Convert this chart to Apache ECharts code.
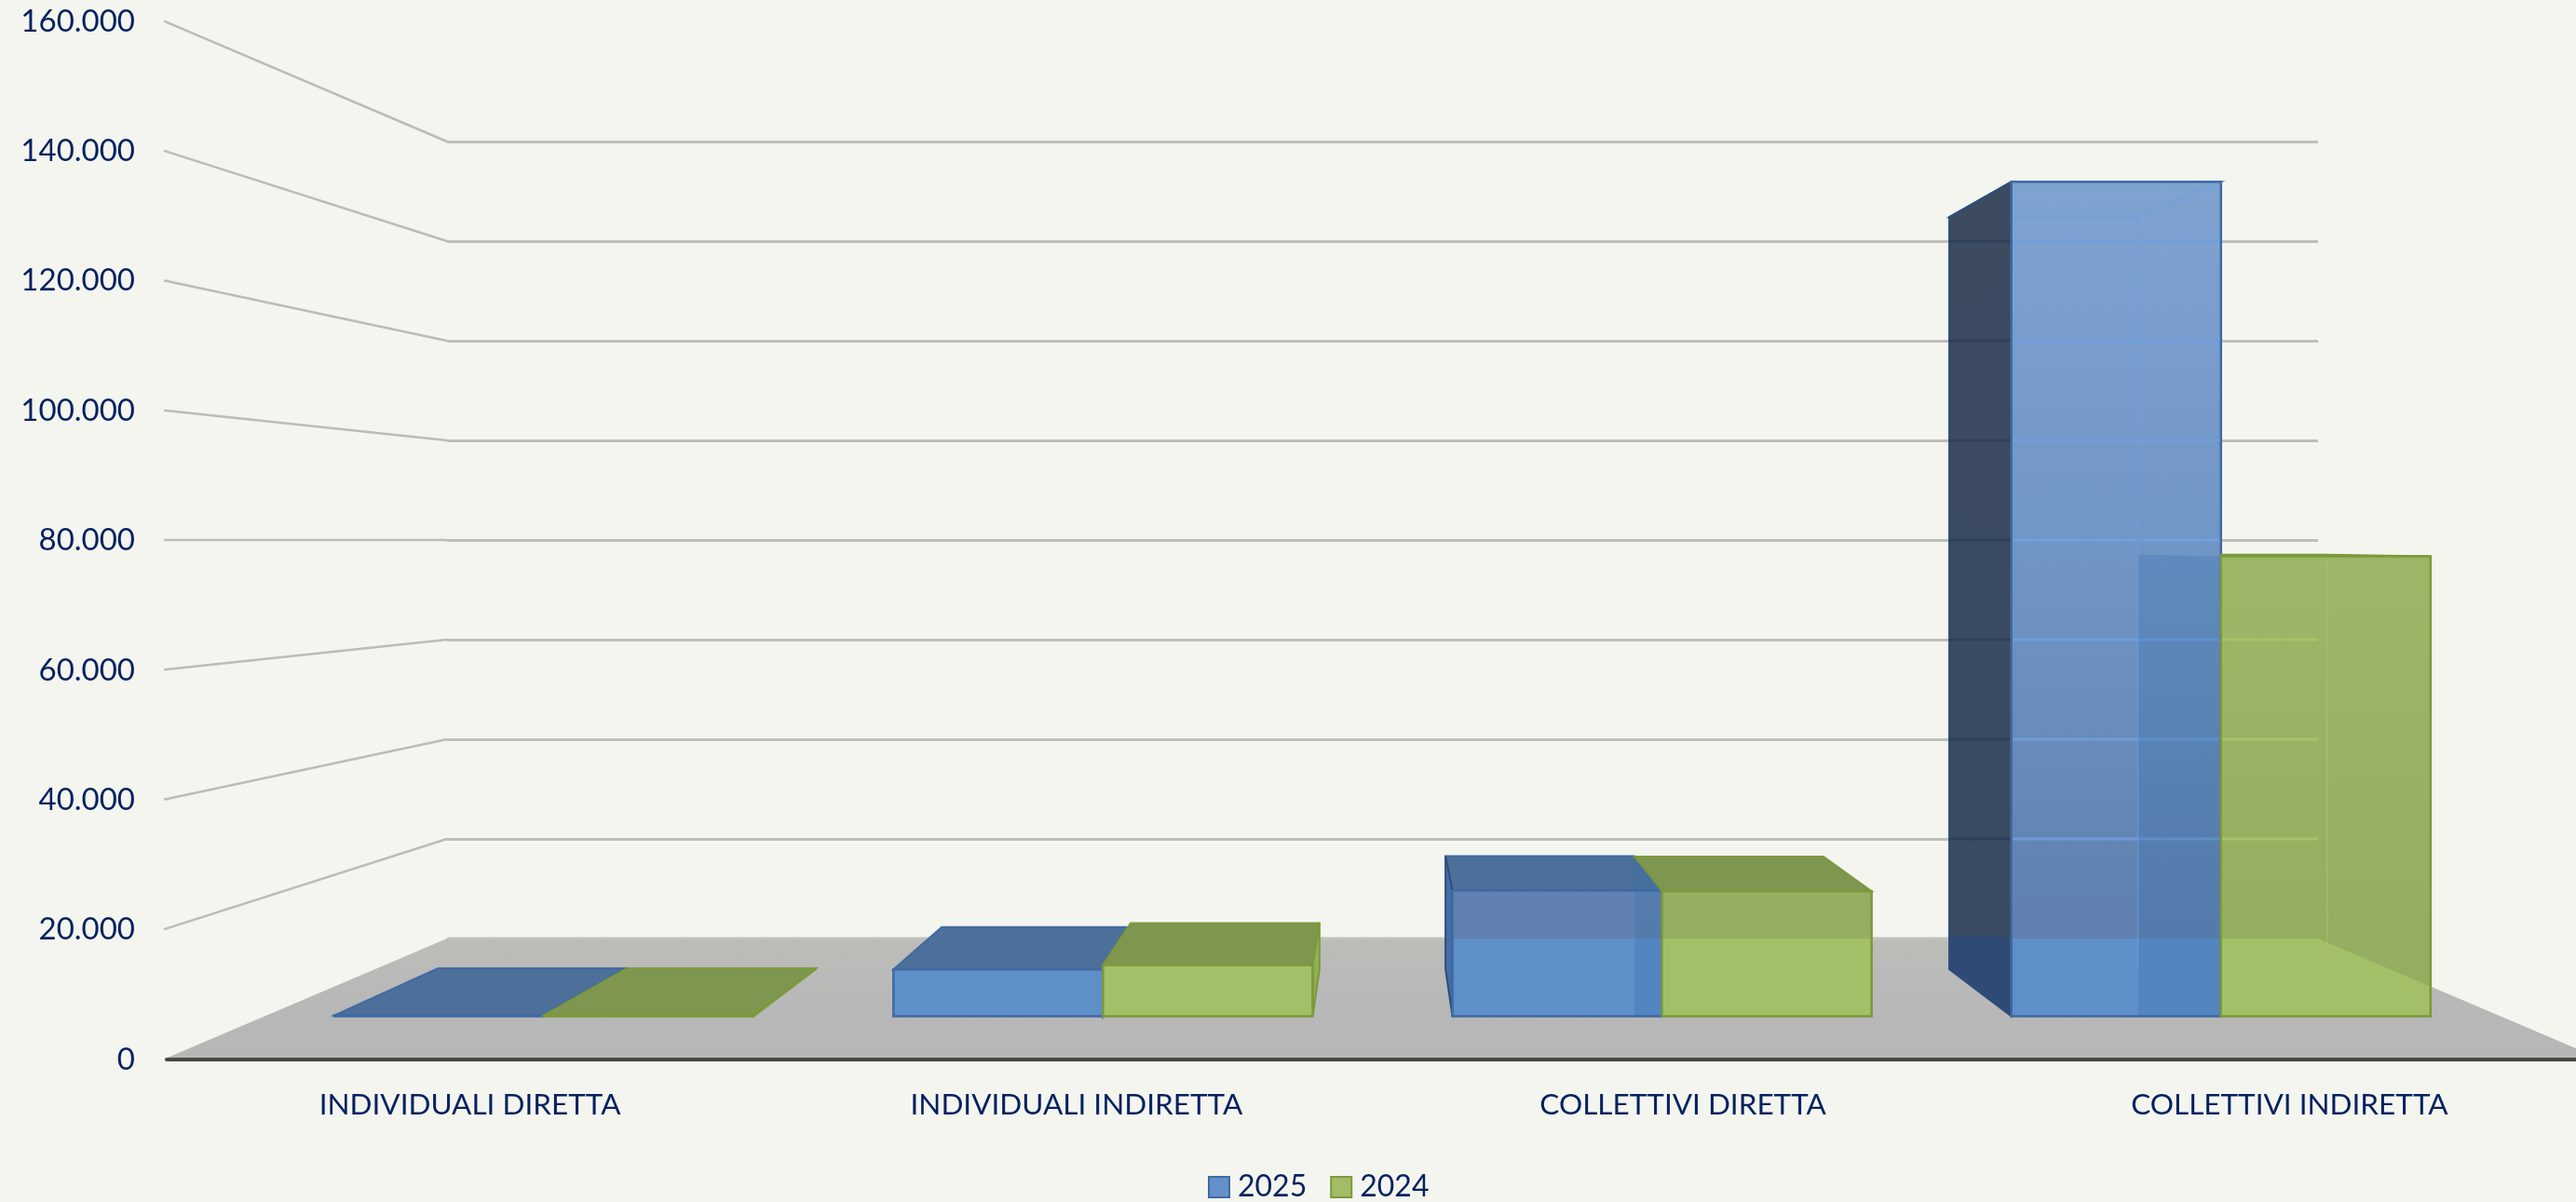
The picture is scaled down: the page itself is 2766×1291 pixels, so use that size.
<!DOCTYPE html>
<html><head><meta charset="utf-8">
<style>html,body{margin:0;padding:0;background:#f4f5ef;overflow:hidden}#c{width:2766px;height:1291px}</style>
<script src="https://cdn.jsdelivr.net/npm/echarts@6/dist/echarts.min.js"></script>
</head><body><div id="c"></div>
<script>
const categories = ['INDIVIDUALI DIRETTA','INDIVIDUALI INDIRETTA','COLLETTIVI DIRETTA','COLLETTIVI INDIRETTA'];
const values2025 = [150, 7850, 21100, 140200];
const values2024 = [150, 8600, 21000, 77250];
const yTicks = [0,20000,40000,60000,80000,100000,120000,140000,160000];

const FRONT_S = 1.3025, BAR_FRONT_S = 1.195, BAR_BACK_S = 1.077, BAR_RATIO = 0.375;
const TEXT = '#04215f', FONT = 'Lato';
const grad = (y1,y2,stops)=>new echarts.graphic.LinearGradient(0,y1,0,y2,stops.map((c,i)=>({offset:i/(stops.length-1),color:c})),true);
const hard = (y1,y2,a,b,c)=>new echarts.graphic.LinearGradient(0,y1,0,y2,[{offset:0,color:a},{offset:.995,color:b},{offset:1,color:c}],true);

const palette = {
  blue:{top:['#80a4d2','#7096c6','#5f80ae'],floor:'#5f8fc9',edge:'#3f6aa3',line:'#6fa0df',topFace:'#4c7099',side:['#3d4b60','#394a62','#2f4b75'],thin:'#436ea6',sideEdge:'#2d4e7c',over:'rgba(50,110,165,0.26)'},
  green:{top:['#a4bd74','#9db668','#95ad60'],floor:'#a2c067',edge:'#7c9a3a',line:'#a8c56c',topFace:'#7e9650',side:['#8fae55','#8fae55','#8fae55'],thin:'#8fae55',sideEdge:'#7c9a3a',over:'rgba(50,110,165,0.26)'}
};

function clipConvex(poly, clip){
  let out = poly;
  for(let i=0;i<clip.length;i++){
    const a=clip[i], b=clip[(i+1)%clip.length], inp=out; out=[];
    const side=p=>(b[0]-a[0])*(p[1]-a[1])-(b[1]-a[1])*(p[0]-a[0]);
    for(let j=0;j<inp.length;j++){
      const p=inp[j], q=inp[(j+1)%inp.length], sp=side(p), sq=side(q);
      if(sp>=0) out.push(p);
      if((sp>=0)!==(sq>=0)){const t=sp/(sp-sq); out.push([p[0]+(q[0]-p[0])*t,p[1]+(q[1]-p[1])*t]);}
    }
    if(!out.length) break;
  }
  return out;
}
function frameOf(api){
  const band = api.size([1,0])[0];
  const wallL = api.coord([0,0])[0]-band/2, wallR = api.coord([categories.length-1,0])[0]+band/2;
  const vx=(wallL+wallR)/2, vy=api.coord([0,80000])[1], y0=api.coord([0,0])[1];
  const P=(x,y,s)=>[vx+(x-vx)*s, vy+(y-vy)*s];
  const floor=[P(wallL,y0,1),P(wallR,y0,1),P(wallR,y0,FRONT_S),P(wallL,y0,FRONT_S)];
  return {band,wallL,wallR,vx,vy,y0,P,floor};
}
const poly=(points,fill,stroke,lw)=>({type:'polygon',shape:{points},style:{fill,stroke:stroke||null,lineWidth:lw||0}});
const seg=(a,b,stroke,lw,op)=>({type:'line',shape:{x1:a[0],y1:a[1],x2:b[0],y2:b[1]},style:{stroke,lineWidth:lw,opacity:op==null?1:op}});

function renderFloor(params,api){
  const f=frameOf(api);
  return {type:'group',children:[poly(f.floor,grad(f.y0,f.y0+130,['#bcbcb8','#b8b8b8','#b6b6b6'])),seg(f.floor[0],f.floor[1],'#c2c2bb',3)]};
}
function renderDiagonal(params,api){
  const f=frameOf(api), t=api.value(1);
  if(t===0) return;
  const y=api.coord([0,t])[1];
  return seg(f.P(f.wallL,y,1),f.P(f.wallL,y,FRONT_S),'#bcbcb4',2.5);
}
function makeBar(pal,offsetSign,isSecond){
  return function(params,api){
    const f=frameOf(api), P=f.P, cat=api.value(0), val=api.value(1);
    const cx=api.coord([cat,0])[0], w=f.band*BAR_RATIO;
    const xa=offsetSign<0?cx-w:cx, xb=offsetSign<0?cx:cx+w;
    const yt=api.coord([cat,val])[1], yb=f.y0;
    const fr=[P(xa,yt,BAR_FRONT_S),P(xb,yt,BAR_FRONT_S),P(xb,yb,BAR_FRONT_S),P(xa,yb,BAR_FRONT_S)];
    const bk=[P(xa,yt,BAR_BACK_S),P(xb,yt,BAR_BACK_S),P(xb,yb,BAR_BACK_S),P(xa,yb,BAR_BACK_S)];
    const ch=[];
    const rightOfVP=xa>f.vx;
    const sideA=rightOfVP?[bk[0],fr[0],fr[3],bk[3]]:[bk[1],fr[1],fr[2],bk[2]];
    const thin=Math.abs(sideA[0][0]-sideA[1][0])<20;
    const sideTop=api.coord([0,160000])[1];
    const hiddenByFirst=isSecond&&rightOfVP&&values2025[cat]>val*1.2;
    // top face (behind the side face and, on a taller neighbour, cut at its front)
    let topPts=[bk[0],bk[1],fr[1],fr[0]];
    if(hiddenByFirst){
      const X0=fr[0][0];
      topPts=clipConvex(topPts,[[X0,-1e4],[1e5,-1e4],[1e5,1e4],[X0,1e4]]);
    }
    ch.push(poly(topPts,pal.topFace,pal.edge,2));
    // side face; the second series' inner side is seen through the first series' front face
    if(isSecond&&rightOfVP){
      ch.push(poly([bk[0],fr[0],fr[3],[bk[3][0],fr[3][1]]],pal.over));
    }else{
      ch.push(poly(sideA,thin?pal.thin:hard(sideTop,yb,pal.side[0],pal.side[1],pal.side[2]),pal.sideEdge,2));
    }
    // front face, with its part over the floor
    ch.push(poly(fr,grad(sideTop,yb,pal.top)));
    const over=clipConvex(fr,f.floor);
    if(over.length) ch.push(poly(over,pal.floor));
    // inner back edges
    const bx=rightOfVP?1:0, tall=val>50000;
    const innerTop=[bk[bx][0],Math.max(bk[bx][1],fr[0][1])], innerBot=bk[bx?2:3];
    if(innerTop[1]<innerBot[1]) ch.push(seg(innerTop,innerBot,pal.line,2,tall?0.55:0.15));
    if(yt<f.vy){
      ch.push(seg([fr[0][0],bk[0][1]],bk[1],pal.line,2,0.7));
      ch.push(seg(bk[1],fr[1],pal.line,2,0.8));
    }
    // wall gridlines seen through the bar
    yTicks.forEach(t=>{
      if(t===0||t>=val) return;
      const y=api.coord([cat,t])[1];
      const x1=fr[0][0], x2=Math.min(fr[1][0],f.wallR);
      if(y<=fr[0][1]||y>=fr[3][1]||x2<=x1) return;
      ch.push(seg([x1,y],[x2,y],pal.line,3,0.85));
      if(rightOfVP&&!isSecond) ch.push(seg([Math.max(bk[0][0],x1-200),y],[x1,y],'#2c3f58',3,0.9));
    });
    ch.push(poly(fr,'none',pal.edge,2.5));
    return {type:'group',children:ch};
  };
}

const chart=echarts.init(document.getElementById('c'),null,{renderer:'canvas',width:2766,height:1291});
const toPairs=a=>a.map((v,i)=>[i,v]);
const fmt=v=>String(v).replace(/\B(?=(\d{3})+$)/g,'.');
chart.setOption({
  animation:false,
  backgroundColor:'#f4f5ef',
  textStyle:{fontFamily:FONT},
  grid:[
    {left:480,right:277,top:152,bottom:283,outerBoundsMode:'none'},
    {left:179,width:2605,top:23,bottom:153,outerBoundsMode:'none'}
  ],
  xAxis:[
    {type:'category',gridIndex:0,data:categories,axisLine:{show:false},axisTick:{show:false},axisLabel:{show:false},splitLine:{show:false}},
    {type:'category',gridIndex:1,data:categories,z:6,axisLine:{show:true,lineStyle:{color:'#474745',width:4}},axisTick:{show:false},splitLine:{show:false},
     axisLabel:{color:TEXT,fontSize:31.5,fontFamily:FONT,margin:33,interval:0,hideOverlap:false}}
  ],
  yAxis:[
    {type:'value',gridIndex:0,min:0,max:160000,interval:20000,axisLine:{show:false},axisTick:{show:false},axisLabel:{show:false},splitLine:{show:true,lineStyle:{color:'#bfbfb7',width:3}}},
    {type:'value',gridIndex:1,min:0,max:160000,interval:20000,axisLine:{show:false},axisTick:{show:false},splitLine:{show:false},
     axisLabel:{color:TEXT,fontSize:33,fontFamily:FONT,margin:34,formatter:fmt,padding:[10,0,0,0]}}
  ],
  legend:{data:['2025','2024'],left:1292,top:1254,itemWidth:22,itemHeight:22,itemGap:25,icon:'rect',
    textStyle:{color:TEXT,fontSize:32,fontFamily:FONT,padding:[0,0,0,4]}},
  tooltip:{show:false},
  series:[
    {type:'custom',xAxisIndex:0,yAxisIndex:0,z:1,silent:true,renderItem:renderFloor,data:[[0,0]]},
    {type:'custom',xAxisIndex:0,yAxisIndex:0,z:1,silent:true,renderItem:renderDiagonal,data:yTicks.map(t=>[0,t])},
    {type:'custom',name:'2025',xAxisIndex:0,yAxisIndex:0,z:3,silent:true,renderItem:makeBar(palette.blue,-1,false),data:toPairs(values2025),itemStyle:{color:'#6590c8',borderColor:'#3f6aa3',borderWidth:2}},
    {type:'custom',name:'2024',xAxisIndex:0,yAxisIndex:0,z:4,silent:true,renderItem:makeBar(palette.green,1,true),data:toPairs(values2024),itemStyle:{color:'#a2bd66',borderColor:'#7c9a3a',borderWidth:2}},
    {type:'custom',xAxisIndex:1,yAxisIndex:1,z:1,silent:true,renderItem:()=>undefined,data:[[0,0]]}
  ]
});
</script></body></html>
